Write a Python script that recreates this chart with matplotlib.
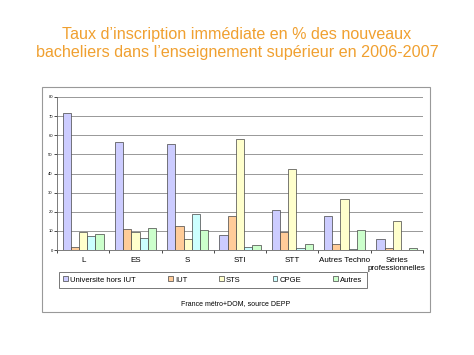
import numpy as np
import matplotlib.pyplot as plt
from matplotlib.patches import Rectangle

categories = ['L', 'ES', 'S', 'STI', 'STT', 'Autres Techno', 'Séries\nprofessionnelles']
series_names = ['Universite hors IUT', 'IUT', 'STS', 'CPGE', 'Autres']
universite = [71.6, 56.3, 55.4, 7.7, 21.0, 18.0, 5.6]
iut = [1.4, 11.0, 12.6, 17.7, 9.3, 3.2, 0.8]
sts = [9.3, 9.3, 5.6, 57.9, 42.6, 26.8, 15.4]
cpge = [7.2, 6.1, 18.7, 1.5, 0.8, 0.3, 0.1]
autres = [8.4, 11.4, 10.3, 2.5, 3.2, 10.5, 0.8]
colors = ['#CCCCFF', '#FFCC99', '#FFFFCC', '#CCFFFF', '#CCFFCC']

plt.rcParams['font.family'] = ['Liberation Sans', 'DejaVu Sans']

fig = plt.figure(figsize=(4.74, 3.55), dpi=100)
W, H = 474.0, 355.0

# title
fig.text(0.5, 1 - 35 / H, "Taux d\u2019inscription immédiate en % des nouveaux",
         ha='center', va='center', fontsize=11.6, color='#F0A030')
fig.text(0.5, 1 - 53 / H, "bacheliers dans l\u2019enseignement supérieur en 2006-2007",
         ha='center', va='center', fontsize=11.6, color='#F0A030')

# outer chart frame
fig.patches.append(Rectangle((42 / W, 1 - 312 / H), (430 - 42) / W, (312 - 87) / H,
                             transform=fig.transFigure, fill=False,
                             edgecolor='#999999', linewidth=0.8))

ax = fig.add_axes([57 / W, 1 - 250 / H, (423 - 57) / W, (250 - 97) / H])
data = [universite, iut, sts, cpge, autres]
x = np.arange(len(categories))
bw = 0.157
for i, vals in enumerate(data):
    ax.bar(x + (i - 2) * bw, vals, width=bw, color=colors[i],
           edgecolor='#444444', linewidth=0.5, label=series_names[i], zorder=3)

ax.set_xlim(-0.5, len(categories) - 0.5)
ax.set_ylim(0, 80)
ax.set_yticks(np.arange(0, 81, 10))
ax.tick_params(axis='y', labelsize=3, length=2, width=0.5, pad=1)
ax.set_xticks(x)
ax.set_xticklabels(categories, fontsize=5.8)
ax.tick_params(axis='x', length=0, pad=5)
ax.set_xticks(np.arange(-0.5, len(categories), 1), minor=True)
ax.tick_params(axis='x', which='minor', length=2, width=0.5)
ax.grid(axis='y', color='#888888', linewidth=0.6, zorder=0)
for side in ['top', 'right']:
    ax.spines[side].set_visible(False)
ax.spines['left'].set_color('#666666')
ax.spines['bottom'].set_color('#666666')
ax.spines['left'].set_linewidth(0.6)
ax.spines['bottom'].set_linewidth(0.6)

leg = fig.legend(loc='center', bbox_to_anchor=(213 / W, 1 - 280 / H), ncol=5,
                 fontsize=5.5, frameon=True, fancybox=False, handlelength=0.6,
                 handleheight=0.6, columnspacing=4.2, handletextpad=0.3,
                 borderpad=0.55)
leg.get_frame().set_edgecolor('#555555')
leg.get_frame().set_linewidth(0.7)

fig.text(236 / W, 1 - 304 / H, 'France métro+DOM, source DEPP',
         ha='center', va='center', fontsize=5.0)

fig.savefig('out.png', dpi=100)
